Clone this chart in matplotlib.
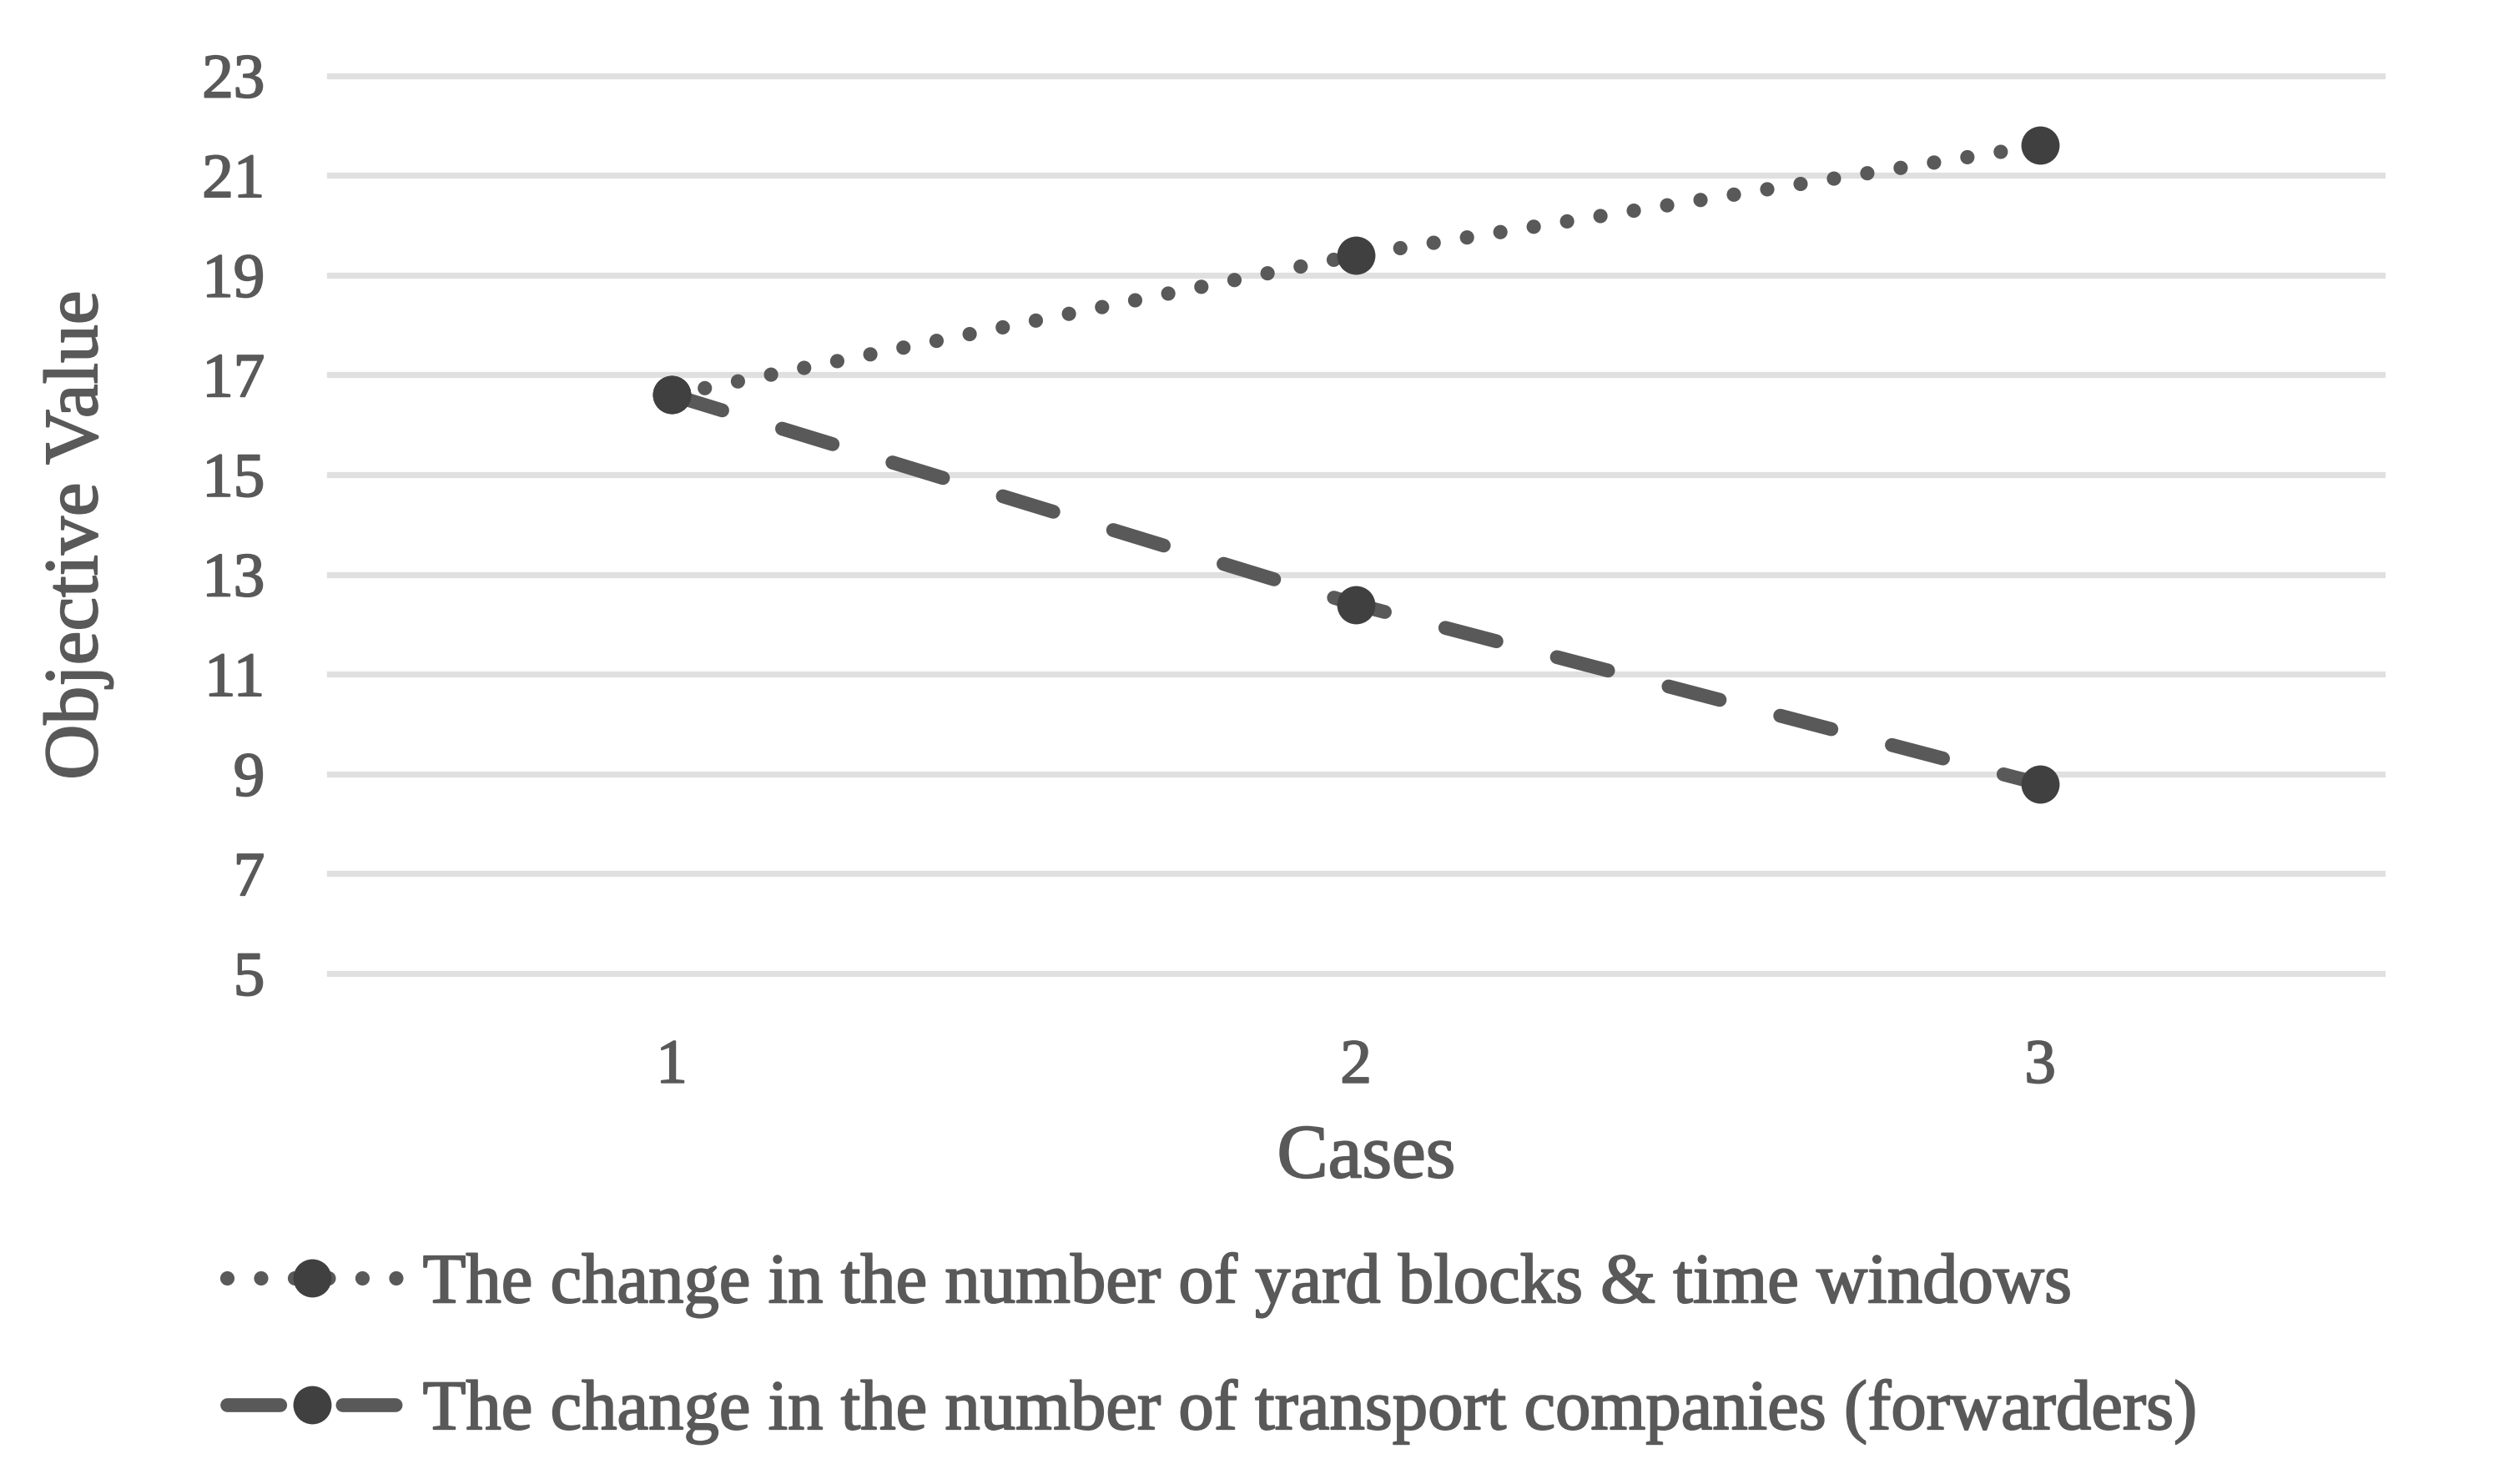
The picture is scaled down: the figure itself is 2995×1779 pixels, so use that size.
import matplotlib
matplotlib.use("Agg")
import matplotlib.pyplot as plt
import matplotlib.patheffects as pe

# ---- data ----
cases = [1, 2, 3]
case_labels = ["1", "2", "3"]
yard_blocks = [16.6, 19.4, 21.6]
forwarders = [16.6, 12.4, 8.8]
y_ticks = [5, 7, 9, 11, 13, 15, 17, 19, 21, 23]
series_names = [
    "The change in the number of yard blocks & time windows",
    "The change in the number of transport companies (forwarders)",
]

TEXT = "#595959"
LINE = "#595959"
MARK = "#404040"
GRID = "#e0e0e0"

plt.rcParams["font.family"] = ["Liberation Serif", "DejaVu Serif"]
thick = [pe.withStroke(linewidth=0.7, foreground=TEXT)]

fig = plt.figure(figsize=(2995 / 200, 1779 / 200), dpi=200)
ax = fig.add_axes([0.1319, 0.3440, 0.8214, 0.6050])

# dashed series (drawn first, underneath)
ax.plot(cases, forwarders, color=LINE, lw=6.0, linestyle=(0, (3.8, 4.5)),
        dash_capstyle="round", marker="o", markersize=16.5,
        markerfacecolor=MARK, markeredgewidth=0, zorder=3, label=series_names[1])
# dotted series
ax.plot(cases, yard_blocks, color=LINE, lw=6.2, linestyle=(0, (0.001, 2.35)),
        dash_capstyle="round", marker="o", markersize=16.5,
        markerfacecolor=MARK, markeredgewidth=0, zorder=4, label=series_names[0])

ax.set_xlim(0.5, 3.5)
ax.set_ylim(5, 23)
ax.set_xticks(cases)
ax.set_xticklabels(case_labels)
ax.set_yticks(y_ticks)

for s in ax.spines.values():
    s.set_visible(False)

ax.tick_params(axis="both", length=0, labelsize=27, labelcolor=TEXT)
ax.tick_params(axis="y", pad=28)
ax.tick_params(axis="x", pad=28.5)
for lab in ax.get_xticklabels() + ax.get_yticklabels():
    lab.set_path_effects(thick)

ax.yaxis.grid(True, color=GRID, lw=2.6)
ax.xaxis.grid(False)
ax.set_axisbelow(True)
for gl in ax.get_ygridlines():
    gl.set_clip_on(False)

ax.set_xlabel("Cases", fontsize=33, color=TEXT, path_effects=thick)
ax.xaxis.set_label_coords(0.505, -0.168)
ax.set_ylabel("Objective Value", fontsize=33, color=TEXT, path_effects=thick)
ax.yaxis.set_label_coords(-0.1057, 0.488)

handles, labels = ax.get_legend_handles_labels()
order = [1, 0]
leg = ax.legend([handles[i] for i in order], [labels[i] for i in order],
                loc="upper left", bbox_to_anchor=(0.0908, 0.1557),
                bbox_transform=fig.transFigure, frameon=False,
                fontsize=30.5, handlelength=2.4, handletextpad=0.37,
                labelspacing=0.88, borderpad=0, borderaxespad=0, numpoints=1)
for t in leg.get_texts():
    t.set_color(TEXT)
    t.set_path_effects(thick)

fig.savefig("out.png", dpi=200, facecolor="white")
